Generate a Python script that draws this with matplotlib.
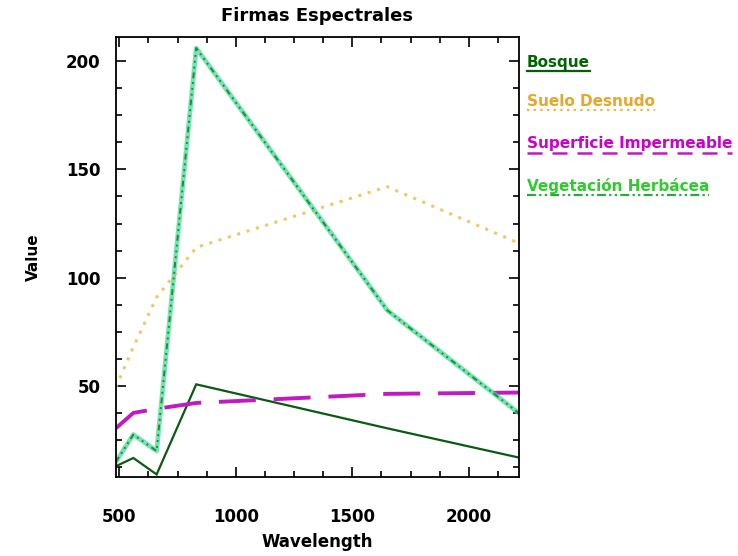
import matplotlib
matplotlib.use("Agg")
import matplotlib.pyplot as plt
from matplotlib.ticker import MultipleLocator
from matplotlib.lines import Line2D

wavelength = [485, 560, 660, 830, 1650, 2215]
bosque = [13, 16.8, 9.2, 50.8, 30.5, 17]
suelo = [49.5, 68, 91, 114, 142, 116]
superficie = [30.5, 37.6, 39.5, 42.2, 46.4, 47]
vegetacion = [15, 27.6, 20, 206, 85, 37.5]

names = ['Bosque', 'Suelo Desnudo', 'Superficie Impermeable', 'Vegetación Herbácea']
colors = ['#006400', '#eaa628', '#cc00cc', '#2ecc2e']

fig = plt.figure(figsize=(7.38, 5.56), dpi=100)
ax = fig.add_axes([0.157, 0.142, 0.546, 0.791])

ax.plot(wavelength, bosque, color='#0b5a12', lw=1.6, solid_joinstyle='miter')
ax.plot(wavelength, suelo, color='#f0bc48', lw=2.2, linestyle=(0, (1, 2.2)), alpha=0.85)
ax.plot(wavelength, superficie, color='#c21ac2', lw=2.8, linestyle=(0, (9.5, 4.6)))
ax.plot(wavelength, vegetacion, color='#45dc9a', lw=3.4, alpha=0.75)
ax.plot(wavelength, vegetacion, color='#1f8f2f', lw=1.4,
        linestyle=(0, (3, 2, 1, 2, 1, 2, 1, 2)))

ax.set_xlim(485, 2215)
ax.set_ylim(8, 211)
ax.xaxis.set_major_locator(MultipleLocator(500))
ax.xaxis.set_minor_locator(MultipleLocator(125))
ax.yaxis.set_major_locator(MultipleLocator(50))
ax.yaxis.set_minor_locator(MultipleLocator(12.5))
ax.tick_params(which='both', direction='in', top=True, right=True, width=1.2)
ax.tick_params(which='major', length=7)
ax.tick_params(which='minor', length=4)
ax.tick_params(axis='x', pad=22)
ax.tick_params(axis='y', pad=11)
for lab in ax.get_xticklabels() + ax.get_yticklabels():
    lab.set_fontsize(12)
    lab.set_fontweight('bold')
for s in ax.spines.values():
    s.set_linewidth(1.3)

ax.set_title('Firmas Espectrales', fontsize=13, fontweight='bold', pad=12)
ax.set_xlabel('Wavelength', fontsize=12, fontweight='bold', labelpad=5)
ax.set_ylabel('Value', fontsize=11, fontweight='bold', labelpad=18)

# legend: coloured text with a line sample underneath
styles = [dict(color='#0b5a12', lw=1.6),
          dict(color='#efb43c', lw=1.6, linestyle=(0, (1, 2))),
          dict(color='#c21ac2', lw=1.8, linestyle=(0, (6, 4))),
          dict(color='#2aa83a', lw=1.6, linestyle=(0, (4, 1.5, 1, 1.5, 1, 1.5)))]
ys = [62, 101, 144, 186]
texts = []
for name, col, yp in zip(names, colors, ys):
    t = fig.text(527 / 738, 1 - yp / 556, name, color=col, fontsize=11,
                 fontweight='bold', va='center', ha='left')
    texts.append(t)
fig.canvas.draw()
r = fig.canvas.get_renderer()
for t, st, yp in zip(texts, styles, ys):
    bb = t.get_window_extent(r)
    yl = 1 - (yp + 9) / 556
    fig.add_artist(Line2D([bb.x0 / 738, bb.x1 / 738], [yl, yl], **st))

fig.savefig('out.png', dpi=100)
